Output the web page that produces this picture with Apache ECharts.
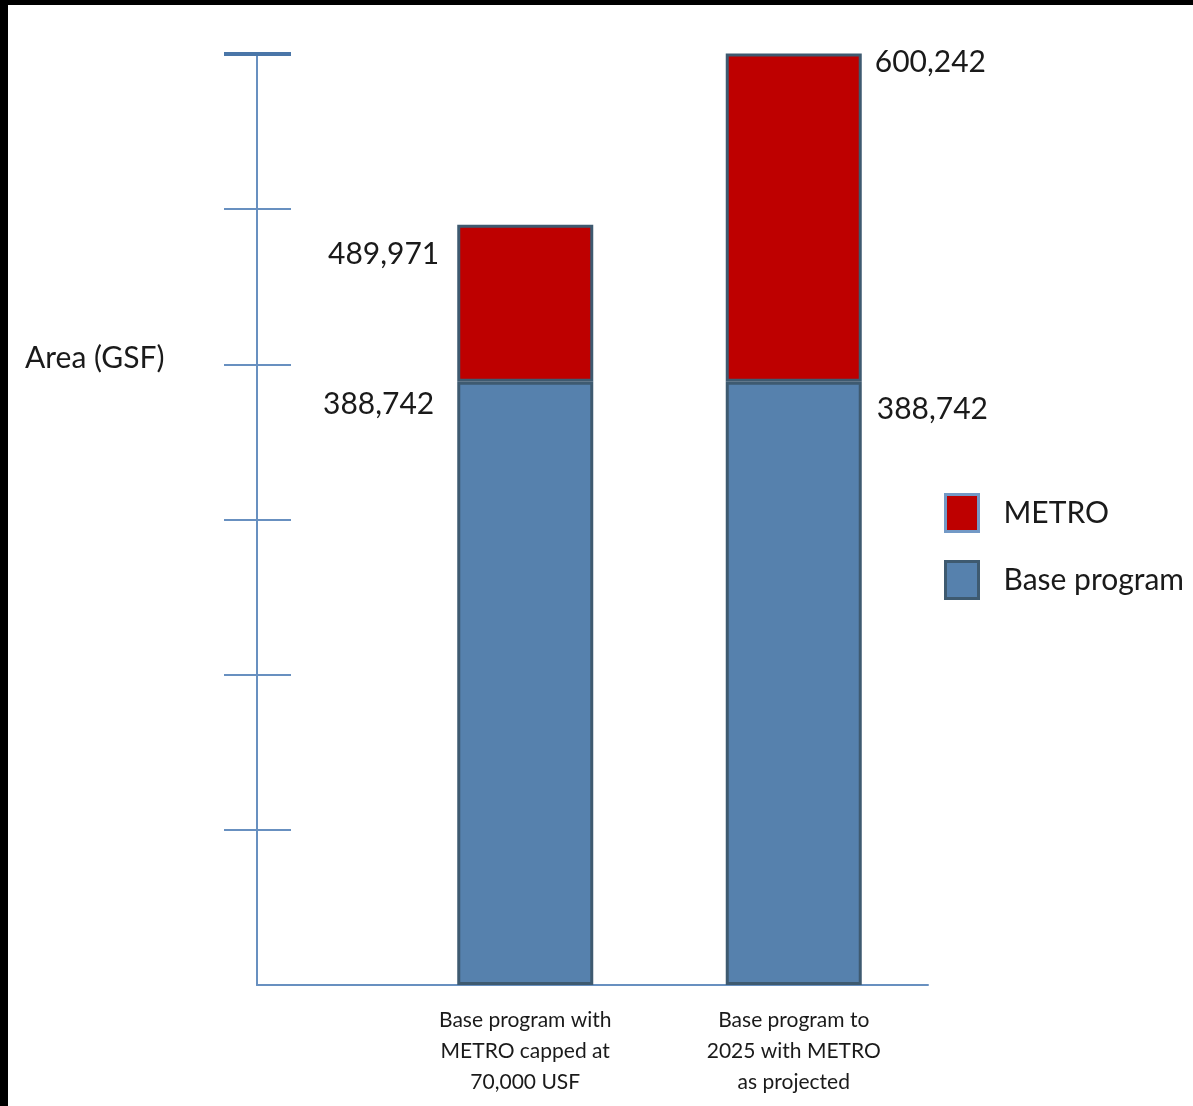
<!DOCTYPE html>
<html>
<head>
<meta charset="utf-8">
<script src="https://cdn.jsdelivr.net/npm/echarts@6/dist/echarts.min.js"></script>
<style>
    html, body { margin: 0; padding: 0; background: #000; }
    #chart { position: absolute; left: 8px; top: 5px; width: 1185px; height: 1101px; background: #fff; }
</style>
</head>
<body>
<div id="chart"></div>
<script>
var categories = ['Base program with\nMETRO capped at\n70,000 USF', 'Base program to\n2025 with METRO\nas projected'];
var baseValues = [388742, 388742];
var metroValues = [101229, 211500];
var totalValues = [489971, 600242];
var tickValues = [100000, 200000, 300000, 400000, 500000];
var topTick = [600000];

var mainChart = echarts.init(document.getElementById('chart'));

var fmt = function (v) {
    return v.toLocaleString('en-US');
};

// label placement: first bar labels sit left, second bar labels sit right
var sideLabel = function (i, text, dy, gapL, gapR) {
    if (i === 0) {
        return { show: true, formatter: text, position: [-gapL, dy], align: 'right', verticalAlign: 'middle' };
    }
    return { show: true, formatter: text, position: ['100%', dy], offset: [gapR, 0], align: 'left', verticalAlign: 'middle' };
};

var baseDy = [23, 28];
var metroDy = [30, 9];

var baseData = baseValues.map(function (v, i) {
    return { value: v, label: sideLabel(i, fmt(v), baseDy[i], 23, 15) };
});
var metroData = metroValues.map(function (v, i) {
    return { value: v, label: sideLabel(i, fmt(totalValues[i]), metroDy[i], 18, 13) };
});

var axisBlue = '#6890C0';
var yCommon = { type: 'value', min: 0, max: 600000, gridIndex: 1, position: 'left', axisLabel: { show: false }, splitLine: { show: false } };

var option = {
    animation: false,
    textStyle: { fontFamily: 'Lato' },
    title: {
        text: 'Area (GSF)',
        left: 12, top: 333,
        textStyle: { fontFamily: 'Lato', fontSize: 30, fontWeight: 'normal', color: '#1a1a1a' }
    },
    legend: {
        orient: 'vertical',
        left: 931, top: 483,
        icon: 'rect',
        itemWidth: 33, itemHeight: 37, itemGap: 27,
        textStyle: { fontFamily: 'Lato', fontSize: 30, color: '#1a1a1a', padding: [0, 0, 0, 20] },
        data: [
            { name: 'METRO', itemStyle: { borderColor: '#7399C6', borderWidth: 3 } },
            { name: 'Base program', itemStyle: { borderColor: '#3E5A70', borderWidth: 3 } }
        ]
    },
    grid: [
        { left: 383, right: 265, top: 49, bottom: 121 },
        { left: 249, width: 134, top: 49, bottom: 121 }
    ],
    xAxis: [
        {
            type: 'category', gridIndex: 0, data: categories,
            axisLine: { lineStyle: { color: axisBlue, width: 2 } },
            axisTick: { show: false },
            axisLabel: { margin: 20, fontFamily: 'Lato', fontSize: 21, lineHeight: 31, color: '#1a1a1a' }
        },
        {
            type: 'category', gridIndex: 1, data: [''],
            axisLine: { lineStyle: { color: axisBlue, width: 2 } },
            axisTick: { show: false },
            axisLabel: { show: false }
        }
    ],
    yAxis: [
        { type: 'value', gridIndex: 0, min: 0, max: 600000, show: false },
        Object.assign({}, yCommon, {
            axisLine: { show: true, lineStyle: { color: axisBlue, width: 2 } },
            axisTick: { show: true, inside: false, length: 33, customValues: tickValues, lineStyle: { color: axisBlue, width: 2 } }
        }),
        Object.assign({}, yCommon, {
            axisLine: { show: false },
            axisTick: { show: true, inside: true, length: 34, customValues: tickValues, lineStyle: { color: axisBlue, width: 2 } }
        }),
        Object.assign({}, yCommon, {
            axisLine: { show: false },
            axisTick: { show: true, inside: false, length: 33, customValues: topTick, lineStyle: { color: '#4A76A8', width: 4 } }
        }),
        Object.assign({}, yCommon, {
            axisLine: { show: false },
            axisTick: { show: true, inside: true, length: 34, customValues: topTick, lineStyle: { color: '#4A76A8', width: 4 } }
        })
    ],
    series: [
        {
            name: 'Base program', type: 'bar', stack: 'area', barWidth: 136, clip: false,
            xAxisIndex: 0, yAxisIndex: 0,
            itemStyle: { color: '#5681AD', borderColor: '#3E5A70', borderWidth: 3 },
            label: { fontFamily: 'Lato', fontSize: 30, color: '#1a1a1a' },
            data: baseData
        },
        {
            name: 'METRO', type: 'bar', stack: 'area', barWidth: 136, clip: false,
            xAxisIndex: 0, yAxisIndex: 0,
            itemStyle: { color: '#BE0000', borderColor: '#3E5A70', borderWidth: 3 },
            label: { fontFamily: 'Lato', fontSize: 30, color: '#1a1a1a' },
            data: metroData
        }
    ]
};

mainChart.setOption(option);
</script>
</body>
</html>
